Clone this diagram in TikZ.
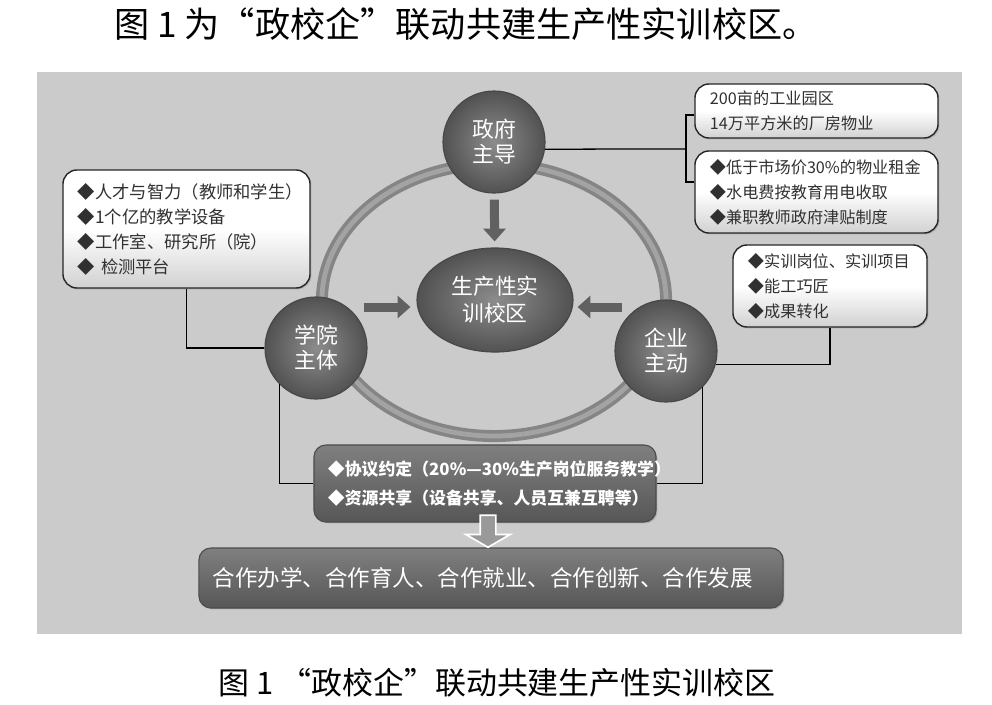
\documentclass[tikz,border=0pt]{standalone}
\usepackage{fontspec}
\setmainfont{Noto Sans CJK SC}
\usetikzlibrary{arrows.meta, positioning, shapes.geometric, shapes.arrows, calc, shadows}
\definecolor{cpanel}{HTML}{CBCBCB}
\definecolor{cring}{HTML}{858585}
\definecolor{cink}{HTML}{303030}
\tikzset{
  ball/.style={circle, draw=black!72, line width=0.8pt, inner color=black!45, outer color=black!68, text=white, align=center, minimum size=2.55cm, inner sep=0pt, font=\fontsize{15.5pt}{17.8pt}\selectfont},
  hub/.style={ellipse, draw=black!72, line width=0.8pt, inner color=black!45, outer color=black!68, text=white, align=center, minimum width=3.9cm, minimum height=2.6cm, inner sep=0pt, font=\fontsize{15.5pt}{19.2pt}\selectfont},
  wbox/.style={draw=black!85, line width=1pt, rounded corners=0.35cm, top color=white, bottom color=black!18, middle color=white, align=left, inner xsep=0.375cm, text=cink, font=\fontsize{11.5pt}{17.8pt}\selectfont, drop shadow={shadow xshift=1pt, shadow yshift=-1pt, opacity=0.35}},
  dbox/.style={draw=black!70, line width=0.8pt, rounded corners=0.3cm, top color=black!50, bottom color=black!66, text=white, align=left, inner xsep=0.35cm, drop shadow={shadow xshift=1pt, shadow yshift=-1pt, opacity=0.35}},
  fat/.style={-{Triangle[width=0.55cm, length=0.32cm]}, line width=0.225cm, draw=black!62, shorten >=0.15cm, shorten <=0.15cm},
  link/.style={draw=black, line width=0.9pt},
  hollow/.style={single arrow, shape border rotate=270, draw=white, line width=1.2pt, fill=black!40, minimum height=0.8cm, single arrow head extend=0.36cm, single arrow tip angle=120, inner sep=0.175cm},
  ring/.style={line width=0.3cm, draw=cring},
  title/.style={text=black, font=\fontsize{25pt}{30pt}\selectfont},
}

\begin{document}
\begin{tikzpicture}[x=0.025cm, y=-0.025cm]
  \useasboundingbox (0,0) rectangle (992,704);
  \fill[white] (0,0) rectangle (992,704);
  \node[title] (ttl) at (466,24) {图 1 为“政校企”联动共建生产性实训校区。};
  \fill[cpanel] (37,72) rectangle (962,634);

  % ring behind the three circles
  \draw[ring] (494,300) ellipse [x radius=4.3cm, y radius=3.4cm];
  \draw[line width=0.12cm, draw=black!36] (494,300) ellipse [x radius=4.3cm, y radius=3.4cm];

  \node[ball] (zf) at (494,142) {政府\\主导};
  \node[ball] (xy) at (316,348) {学院\\主体};
  \node[ball] (qy) at (666,351) {企业\\主动};
  \node[hub] (ell) at (495,300) {生产性实\\训校区};

  \node[wbox, minimum width=6.175cm, minimum height=2.95cm, text width=5.425cm, font=\fontsize{12.3pt}{17.8pt}\selectfont] (lbox) at (186.5,229) {◆人才与智力（教师和学生）\\◆1个亿的教学设备\\◆工作室、研究所（院）\\◆ 检测平台};
  \node[wbox, minimum width=6.075cm, minimum height=1.35cm, text width=5.325cm] (rb1) at (816.5,111) {200亩的工业园区\\14万平方米的厂房物业};
  \node[wbox, minimum width=6.075cm, minimum height=2.05cm, text width=5.325cm] (rb2) at (816.5,192) {◆低于市场价30\%的物业租金\\◆水电费按教育用电收取\\◆兼职教师政府津贴制度};
  \node[wbox, minimum width=4.85cm, minimum height=2.05cm, text width=4.1cm] (rb3) at (830,286) {◆实训岗位、实训项目\\◆能工巧匠\\◆成果转化};

  \node[dbox, minimum width=8.55cm, minimum height=1.925cm, text width=7.85cm, font=\bfseries\fontsize{12pt}{20.6pt}\selectfont] (mbox) at (485,483.5) {\mbox{◆协议约定（20\%—30\%生产岗位服务教学）}\\\mbox{◆资源共享（设备共享、人员互兼互聘等）}};
  \node[dbox, minimum width=14.6cm, minimum height=1.5cm, text width=13.9cm, font=\fontsize{16pt}{20pt}\selectfont] (bbox) at (491,578) {合作办学、合作育人、合作就业、合作创新、合作发展};
  \node[hollow] (harr) at ($(mbox.south)!.5!(bbox.north)+(0,-6)$) {};

  \draw[fat] (zf) -- (ell);
  \draw[fat, shorten <=-0.1cm] ([yshift=-5pt]ell.west -| xy.east) -- ([yshift=-5pt]ell.west);
  \draw[fat, shorten <=-0.2cm, shorten >=0.1cm] ([yshift=-5pt]ell.east -| qy.west) -- ([yshift=-5pt]ell.east);

  \coordinate (brk) at (686,149);
  \draw[link] (lbox.south) |- (xy.west);
  \draw[link] (zf.-8) -- (brk);
  \draw[link] ($(rb1.west)+(0,4)$) -| (brk) |- ($(rb2.west)+(0,-10)$);
  \draw[link] (rb3.south) |- (qy.-15);
  \draw[link] (xy.-135) |- (mbox.west);
  \draw[link] (qy.-45) |- (mbox.east);

  \node[title, font=\fontsize{22pt}{26pt}\selectfont] (cap) at (497,683) {图 1 “政校企”联动共建生产性实训校区};
\end{tikzpicture}
\end{document}
